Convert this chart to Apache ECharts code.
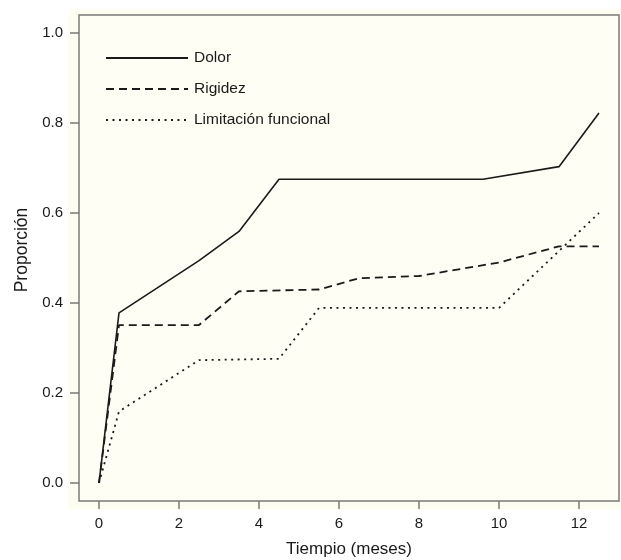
<!DOCTYPE html>
<html lang="es">
<head>
  <meta charset="UTF-8">
  <title>Proporción</title>
  <script src="https://cdn.jsdelivr.net/npm/echarts@6/dist/echarts.min.js"></script>
  <style>
    html, body { margin: 0; padding: 0; background: #fff; }
    #chart { width: 621px; height: 560px; }
  </style>
</head>
<body>
  <div id="chart"></div>
  <script>
    // datos (meses, proporción)
    const dolorMeses = [0, 0.5, 2.5, 3.5, 4.5, 9.6, 11.5, 12.5];
    const dolorVal   = [0, 0.378, 0.494, 0.559, 0.675, 0.675, 0.703, 0.822];
    const rigidezMeses = [0, 0.5, 2.5, 3.5, 5.5, 6.5, 8, 10, 11.5, 12.5];
    const rigidezVal   = [0, 0.351, 0.351, 0.426, 0.43, 0.455, 0.46, 0.49, 0.526, 0.526];
    const limitMeses = [0, 0.5, 2.5, 4.5, 5.5, 10, 12.5];
    const limitVal   = [0, 0.159, 0.273, 0.276, 0.389, 0.389, 0.6];
    const xTicks = [0, 2, 4, 6, 8, 10, 12];
    const yTicks = [0, 0.2, 0.4, 0.6, 0.8, 1.0];

    const pares = (xs, ys) => xs.map((x, i) => [x, ys[i]]);
    const font = 'Liberation Sans, Arial, sans-serif';
    const ink = '#1a1a1a';

    const chart = echarts.init(document.getElementById('chart'));
    chart.setOption({
      backgroundColor: '#ffffff',
      animation: false,
      textStyle: { fontFamily: font },
      graphic: [{
        type: 'rect', z: -10, silent: true,
        shape: { x: 68, y: 9, width: 553, height: 501 },
        style: { fill: '#fdfdf1' }
      }],
      grid: {
        left: 79, top: 15, right: 2, bottom: 59,
        outerBoundsMode: 'none', containLabel: false,
        show: true, backgroundColor: '#fefef4',
        borderColor: '#7a7a7a', borderWidth: 1.5
      },
      legend: {
        orient: 'vertical', left: 100, top: 45,
        itemWidth: 82, itemHeight: 16, itemGap: 15,
        itemStyle: { color: 'transparent', borderWidth: 0 },
        textStyle: { fontFamily: font, fontSize: 15.5, color: ink, padding: [0, 0, 0, 1] },
        data: ['Dolor', 'Rigidez', 'Limitación funcional']
      },
      xAxis: {
        type: 'value', min: -0.5, max: 13,
        name: 'Tiempio (meses)', nameLocation: 'middle', nameGap: 40,
        nameTextStyle: { fontFamily: font, fontSize: 17, color: ink },
        axisLine: { show: false, onZero: false },
        axisTick: { show: true, length: 8, customValues: xTicks, lineStyle: { color: '#7a7a7a', width: 1.5 } },
        axisLabel: { customValues: xTicks, margin: 15, fontFamily: font, fontSize: 15, color: ink },
        splitLine: { show: false }
      },
      yAxis: {
        type: 'value', min: -0.04, max: 1.04,
        name: 'Proporción', nameLocation: 'middle', nameGap: 46,
        nameTextStyle: { fontFamily: font, fontSize: 17.5, color: ink, padding: [0, 0, 0, 16] },
        axisLine: { show: false, onZero: false },
        axisTick: { show: true, length: 9, customValues: yTicks, lineStyle: { color: '#7a7a7a', width: 1.5 } },
        axisLabel: { customValues: yTicks, margin: 16, fontFamily: font, fontSize: 15, color: ink,
                     formatter: v => v.toFixed(1) },
        splitLine: { show: false }
      },
      series: [
        {
          name: 'Dolor', type: 'line', symbol: 'none',
          lineStyle: { color: ink, width: 1.6, type: 'solid' },
          itemStyle: { color: ink },
          data: pares(dolorMeses, dolorVal)
        },
        {
          name: 'Rigidez', type: 'line', symbol: 'none',
          lineStyle: { color: ink, width: 1.8, type: [8, 5] },
          itemStyle: { color: ink },
          data: pares(rigidezMeses, rigidezVal)
        },
        {
          name: 'Limitación funcional', type: 'line', symbol: 'none',
          lineStyle: { color: ink, width: 1.8, type: [2, 4.5] },
          itemStyle: { color: ink },
          data: pares(limitMeses, limitVal)
        }
      ]
    });
  </script>
</body>
</html>
